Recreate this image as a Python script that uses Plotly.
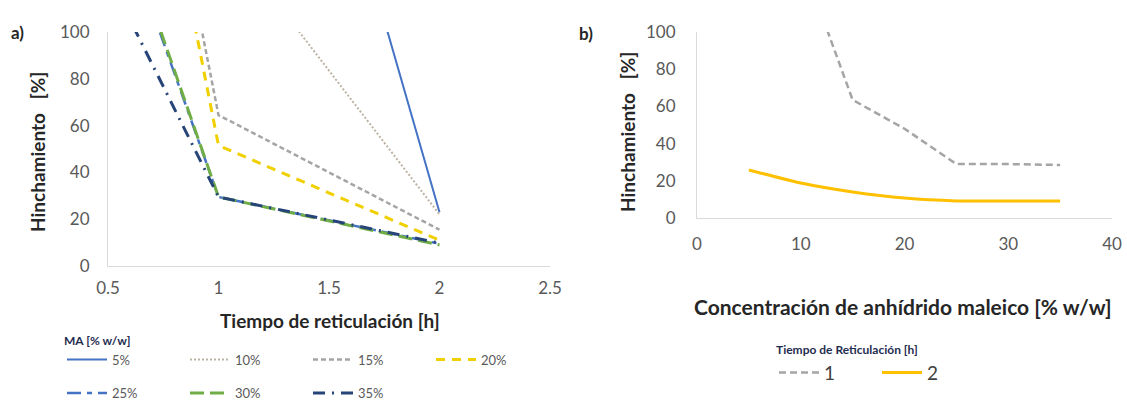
import plotly.graph_objects as go

# ---- data ----------------------------------------------------------------
# a) swelling vs crosslinking time, one series per maleic anhydride content
tiempo_h = [0.5, 1, 2]
ma_labels = ["5%", "10%", "15%", "20%", "25%", "30%", "35%"]
ma_5 = [None, 351, 23]
ma_10 = [None, 145, 22]
ma_15 = [304, 64.5, 15.5]
ma_20 = [291, 51.5, 11]
ma_25 = [162, 29.5, 9.5]
ma_30 = [165, 29.5, 9]
ma_35 = [124, 29.5, 9.8]

# b) swelling vs maleic anhydride content, one series per crosslinking time
ma_pct = [5, 10, 15, 20, 25, 30, 35]
t_labels = ["1", "2"]
t_1h = [None, 140, 63.5, 48, 29, 29, 28.5]
t_2h = [25.8, 18.8, 14, 10.7, 9.2, 9.1, 9.1]

# ---- styling ---------------------------------------------------------------
FONT = "Lato, 'Open Sans', sans-serif"
TICK = "#595959"
AXIS = "#d9d9d9"

W, H = 1127, 414


def px_x(p):
    return p / W


def px_y(p):
    return 1 - p / H


styles_a = [
    dict(color="#4472C4", dash="solid", width=2),
    dict(color="#bdb3a4", dash="2px,2px", width=2),
    dict(color="#A5A5A5", dash="5px,3px", width=2.5),
    dict(color="#F0D000", dash="9px,7px", width=3),
    dict(color="#4472C4", dash="14px,6px,5px,6px", width=2.5),
    dict(color="#70AD47", dash="14px,6px", width=3),
    dict(color="#264478", dash="12px,7px,2px,7px", width=3),
]
series_a = [ma_5, ma_10, ma_15, ma_20, ma_25, ma_30, ma_35]

fig = go.Figure()

for i, (lab, vals, st) in enumerate(zip(ma_labels, series_a, styles_a)):
    fig.add_trace(go.Scatter(
        x=tiempo_h, y=vals, name=lab, mode="lines",
        line=st, connectgaps=False,
        xaxis="x", yaxis="y",
        legend="legend" if i < 4 else "legend3",
    ))

fig.add_trace(go.Scatter(
    x=ma_pct, y=t_1h, name=t_labels[0], mode="lines",
    line=dict(color="#A5A5A5", dash="7px,4px", width=2.5),
    xaxis="x2", yaxis="y2", legend="legend2",
))
fig.add_trace(go.Scatter(
    x=ma_pct, y=t_2h, name=t_labels[1], mode="lines",
    line=dict(color="#FFC000", width=3, shape="spline", smoothing=0.6),
    xaxis="x2", yaxis="y2", legend="legend2",
))

axis_common = dict(
    showgrid=False, zeroline=False, showline=True, linecolor=AXIS, linewidth=1,
    ticks="", tickfont=dict(family=FONT, size=17, color=TICK), automargin=False,
)

legend_item_font = dict(family=FONT, size=13, color=TICK)

fig.update_layout(
    width=W, height=H,
    margin=dict(l=0, r=0, t=0, b=0, autoexpand=False),
    paper_bgcolor="white", plot_bgcolor="white",
    font=dict(family=FONT, color=TICK),
    xaxis=dict(domain=[px_x(108), px_x(550)], range=[0.5, 2.5],
               tickvals=[0.5, 1, 1.5, 2, 2.5], ticktext=["0.5", "1", "1.5", "2", "2.5"],
               ticklabelstandoff=7, anchor="y", **axis_common),
    yaxis=dict(domain=[px_y(266), px_y(32)], range=[0, 100],
               tickvals=[0, 20, 40, 60, 80, 100], ticklabelstandoff=14,
               anchor="x", **axis_common),
    xaxis2=dict(domain=[px_x(697), px_x(1112)], range=[0, 40],
                tickvals=[0, 10, 20, 30, 40], ticklabelstandoff=11,
                anchor="y2", **axis_common),
    yaxis2=dict(domain=[px_y(218), px_y(32)], range=[0, 100],
                tickvals=[0, 20, 40, 60, 80, 100], ticklabelstandoff=17,
                anchor="x2", **axis_common),
    legend=dict(
        orientation="h", x=px_x(62), y=px_y(329), xanchor="left", yanchor="top",
        entrywidth=68, entrywidthmode="pixels",
        title=dict(text="<b>MA [% w/w]</b>", side="top",
                   font=dict(family=FONT, size=12, color="#1f2d50")),
        font=legend_item_font,
        bgcolor="rgba(0,0,0,0)", itemwidth=40,
    ),
    legend3=dict(
        orientation="h", x=px_x(62), y=px_y(378), xanchor="left", yanchor="top",
        entrywidth=68, entrywidthmode="pixels",
        font=legend_item_font,
        bgcolor="rgba(0,0,0,0)", itemwidth=40,
    ),
    legend2=dict(
        orientation="h", x=px_x(774), y=px_y(338), xanchor="left", yanchor="top",
        entrywidth=48, entrywidthmode="pixels",
        title=dict(text="<b>Tiempo de Reticulación [h]</b>", side="top",
                   font=dict(family=FONT, size=12, color="#1f2d50")),
        font=dict(family=FONT, size=19, color="#404040"),
        bgcolor="rgba(0,0,0,0)", itemwidth=40,
    ),
    showlegend=True,
)

annotations = [
    dict(text="<b>a)</b>", x=px_x(17), y=px_y(32)),
    dict(text="<b>b)</b>", x=px_x(586), y=px_y(33)),
]
for a in annotations:
    a.update(xref="paper", yref="paper", showarrow=False,
             font=dict(family=FONT, size=17, color="#262626"),
             xanchor="center", yanchor="middle")
    fig.add_annotation(**a)

fig.add_annotation(text="<b>Hinchamiento   [%]</b>", x=px_x(37), y=px_y(152),
                   xref="paper", yref="paper", showarrow=False, textangle=-90,
                   font=dict(family=FONT, size=19, color="#262626"),
                   xanchor="center", yanchor="middle")
fig.add_annotation(text="<b>Hinchamiento   [%]</b>", x=px_x(627), y=px_y(132),
                   xref="paper", yref="paper", showarrow=False, textangle=-90,
                   font=dict(family=FONT, size=19, color="#262626"),
                   xanchor="center", yanchor="middle")
fig.add_annotation(text="<b>Tiempo de reticulación [h]</b>", x=px_x(330), y=px_y(320),
                   xref="paper", yref="paper", showarrow=False,
                   font=dict(family=FONT, size=19, color="#262626"),
                   xanchor="center", yanchor="middle")
fig.add_annotation(text="<b>Concentración de anhídrido maleico [% w/w]</b>",
                   x=px_x(903), y=px_y(306),
                   xref="paper", yref="paper", showarrow=False,
                   font=dict(family=FONT, size=21, color="#262626"),
                   xanchor="center", yanchor="middle")

# Drop the default page margin so the fixed-size figure fills the window.
fig.write_html(
    "out.html",
    post_script=(
        "document.body.style.margin='0';"
        "var gd=document.getElementById('{plot_id}');"
        "Plotly.relayout(gd,{width:%d,height:%d});" % (W, H)
    ),
)
